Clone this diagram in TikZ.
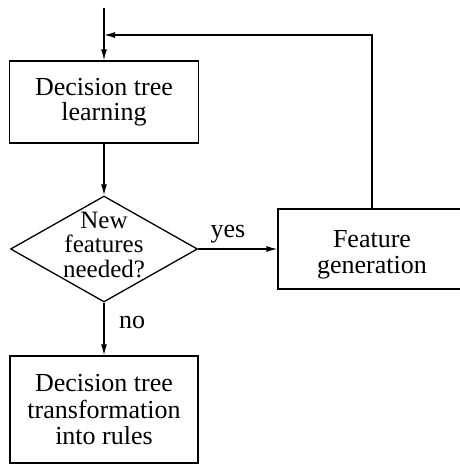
\documentclass[tikz,border=0pt]{standalone}
\usepackage{fontspec}
\setmainfont{Liberation Serif}
\usetikzlibrary{shapes.geometric,arrows.meta}
\begin{document}
\begin{tikzpicture}[x=1pt,y=-1pt,
  every node/.style={font=\fontsize{26}{25.5}\selectfont},
  block/.style={draw, line width=1.3pt, rectangle, align=center, inner sep=0pt},
  decision/.style={draw, line width=1.3pt, diamond, inner sep=0pt},
  flow/.style={line width=1.3pt, -{Latex[length=11pt,width=6pt]}},
  tag/.style={inner sep=0pt}
]
\useasboundingbox (0,0) rectangle (460,464);
\clip (0,0) rectangle (460,464);

% process boxes and the decision
\node[block, minimum width=189pt, minimum height=82pt] (learn) at (104,102) {Decision tree\\learning};
\node[decision, minimum width=187pt, minimum height=106pt] (test) at (104,249) {};
\node[tag, align=center, font=\fontsize{25}{24.5}\selectfont] (testtext) at (104,244.5) {New\\features\\needed?};
\node[block, minimum width=188pt, minimum height=80pt] (feat) at (372,249) {};
\node[tag, align=center] (feattext) at (372,255) {Feature\\generation};
\node[block, minimum width=188pt, minimum height=107pt] (rules) at (104,409.5) {Decision tree\\[1.5pt]transformation\\into rules};

% connectors
\coordinate (entry) at (104,8);
\coordinate (corner) at (372,35);
\draw[flow] (entry) -- (learn.north);
\draw[flow] (learn.south) -- (test.north);
\draw[flow] (test.east) -- (feat.west);
\draw[flow] (test.south) -- (rules.north);
\draw[flow] (feat.north) -- (corner) -- (corner -| entry);

% branch labels
\node[tag] (yes) at (228,234) {yes};
\node[tag] (no) at (132,322) {no};
\end{tikzpicture}
\end{document}
